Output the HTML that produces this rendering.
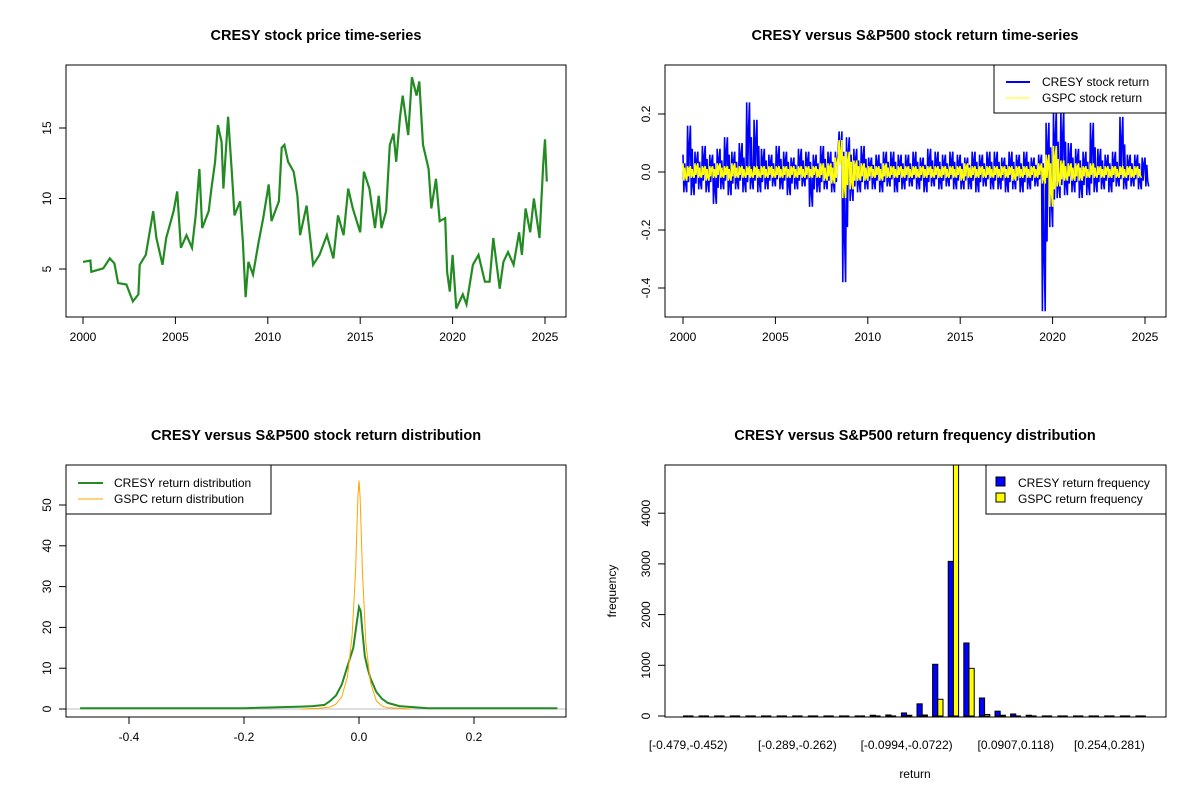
<!DOCTYPE html>
<html><head><meta charset="utf-8"><style>
html,body{margin:0;padding:0;background:#fff;}
svg{display:block;font-family:"Liberation Sans",Arial,sans-serif;}
</style></head><body>
<svg id="s" width="1200" height="800" viewBox="0 0 1200 800">
<rect width="1200" height="800" fill="#fff"/>
<g font-weight="bold" font-size="14.5" text-anchor="middle">
<text x="316" y="40">CRESY stock price time-series</text>
<text x="915" y="40">CRESY versus S&amp;P500 stock return time-series</text>
<text x="316" y="440">CRESY versus S&amp;P500 stock return distribution</text>
<text x="915" y="440">CRESY versus S&amp;P500 return frequency distribution</text>
</g>
</svg>
<script>
// ---------- Panel 1 data ----------
const priceYears=[2000.0,2000.4,2000.45,2001.1,2001.45,2001.7,2001.9,2002.35,2002.7,2003.0,2003.07,2003.4,2003.8,2003.97,2004.3,2004.5,2004.9,2005.1,2005.3,2005.6,2005.9,2006.1,2006.3,2006.45,2006.8,2006.95,2007.15,2007.3,2007.5,2007.6,2007.85,2008.05,2008.2,2008.5,2008.65,2008.8,2008.95,2009.2,2009.5,2009.75,2010.05,2010.2,2010.6,2010.75,2010.9,2011.1,2011.4,2011.6,2011.75,2012.1,2012.45,2012.8,2013.2,2013.55,2013.8,2014.1,2014.35,2014.6,2015.0,2015.2,2015.5,2015.8,2016.0,2016.15,2016.4,2016.6,2016.8,2016.95,2017.15,2017.3,2017.6,2017.8,2018.05,2018.2,2018.4,2018.7,2018.85,2019.1,2019.3,2019.6,2019.7,2019.85,2020.0,2020.2,2020.55,2020.75,2021.1,2021.4,2021.75,2022.0,2022.2,2022.55,2022.75,2023.0,2023.3,2023.6,2023.75,2023.95,2024.2,2024.4,2024.7,2024.9,2025.0,2025.1];
const priceValues=[5.5,5.6,4.8,5.05,5.75,5.4,4.0,3.9,2.7,3.2,5.3,6.0,9.1,7.2,5.3,7.2,9.1,10.5,6.5,7.4,6.5,8.8,12.1,7.9,9.1,10.7,12.6,15.2,14.0,10.7,15.8,11.9,8.8,9.8,6.9,3.0,5.5,4.6,6.9,8.6,11.0,8.4,9.8,13.6,13.8,12.6,11.9,10.2,7.4,9.5,5.3,6.0,7.4,5.75,8.8,7.4,10.7,9.3,7.6,11.9,10.7,7.9,10.2,7.9,9.1,13.8,14.6,12.6,15.7,17.3,14.5,18.6,17.3,18.3,13.8,12.1,9.3,11.4,8.4,8.6,4.8,3.4,6.0,2.2,3.2,2.5,5.3,6.0,4.1,4.1,7.2,3.6,5.5,6.2,5.3,7.6,6.0,9.3,7.6,10.0,7.2,12.4,14.2,11.2];
const yearTicks=[2000,2005,2010,2015,2020,2025];
const priceTicks=[5,10,15];
// ---------- Panel 2 data ----------
const retStart=2000, retStep=0.2;
const cresyReturns=[0.06,-0.07,0.16,-0.08,0.07,-0.06,0.09,-0.07,0.06,-0.11,0.08,-0.06,0.12,-0.08,0.07,-0.06,0.10,-0.07,0.24,-0.06,0.18,-0.07,0.08,-0.06,0.06,-0.05,0.09,-0.06,0.07,-0.08,0.05,-0.06,0.08,-0.05,0.07,-0.12,0.06,-0.07,0.09,-0.06,0.07,-0.07,0.07,0.14,-0.38,0.12,-0.10,0.08,-0.07,0.09,-0.06,0.05,-0.06,0.06,-0.07,0.07,-0.05,0.07,-0.07,0.06,-0.06,0.06,-0.05,0.07,-0.06,0.05,-0.07,0.08,-0.05,0.07,-0.06,0.06,-0.05,0.07,-0.06,0.06,-0.06,0.05,-0.06,0.07,-0.07,0.06,-0.05,0.07,-0.06,0.07,-0.06,0.05,-0.07,0.07,-0.06,0.06,-0.07,0.07,-0.06,0.05,-0.05,0.06,-0.48,0.17,-0.19,0.21,-0.09,0.21,-0.08,0.10,-0.07,0.08,-0.09,0.07,-0.08,0.17,-0.07,0.08,-0.06,0.06,-0.07,0.07,-0.05,0.19,-0.06,0.06,-0.05,0.06,-0.06,0.05];
const gspcReturns=[0.03,-0.03,0.02,-0.02,0.03,-0.02,0.02,-0.03,0.02,-0.02,0.03,-0.02,0.02,-0.03,0.03,-0.02,0.02,-0.02,0.02,-0.02,0.02,-0.02,0.02,-0.02,0.02,-0.02,0.02,-0.02,0.02,-0.02,0.02,-0.02,0.02,-0.02,0.02,-0.02,0.02,-0.02,0.03,-0.03,0.03,-0.04,0.05,0.11,-0.09,0.07,-0.06,0.04,-0.03,0.03,-0.03,0.02,-0.02,0.02,-0.03,0.03,-0.02,0.02,-0.02,0.02,-0.02,0.02,-0.02,0.02,-0.02,0.02,-0.02,0.02,-0.02,0.02,-0.02,0.02,-0.02,0.02,-0.02,0.02,-0.03,0.03,-0.02,0.02,-0.02,0.02,-0.02,0.02,-0.02,0.02,-0.02,0.02,-0.02,0.02,-0.03,0.02,-0.02,0.02,-0.02,0.02,-0.02,0.03,-0.04,0.06,-0.12,0.09,-0.05,0.04,-0.03,0.03,-0.03,0.03,-0.03,0.02,-0.02,0.03,-0.02,0.02,-0.02,0.02,-0.02,0.02,-0.02,0.02,-0.02,0.02,-0.02,0.02];
const returnTicks=[-0.4,-0.2,0.0,0.2];
// ---------- Panel 3 data ----------
const cresyDensX=[-0.485,-0.2,-0.1,-0.08,-0.06,-0.05,-0.04,-0.03,-0.02,-0.01,-0.005,0,0.003,0.006,0.01,0.015,0.02,0.03,0.04,0.05,0.07,0.1,0.12,0.2,0.345];
const cresyDensY=[0.2,0.2,0.6,0.7,1.0,2.0,3.3,6.0,10.5,15,20,25,24,19,13,10,7.5,4.2,2.5,1.5,0.7,0.4,0.2,0.2,0.2];
const gspcDensX=[-0.1,-0.07,-0.05,-0.04,-0.03,-0.02,-0.012,-0.006,-0.002,0,0.002,0.006,0.012,0.02,0.03,0.04,0.05,0.07,0.09];
const gspcDensY=[0.0,0.2,0.5,1.2,3.0,8.0,18,34,52,56,52,34,16,6.5,2,0.7,0.3,0.2,0.0];
const densXTicks=[-0.4,-0.2,0.0,0.2];
const densYTicks=[0,10,20,30,40,50];
// ---------- Panel 4 data ----------
const cresyCounts=[0,0,0,0,0,0,0,0,0,0,0,0,15,20,60,240,1020,3050,1440,355,95,40,15,0,0,0,0,0,0,0];
const gspcCounts=[0,0,0,0,0,0,0,0,0,0,0,0,2,5,15,20,330,5300,940,30,15,5,2,0,0,0,0,0,0,0];
const binLabels=["[-0.479,-0.452)","[-0.289,-0.262)","[-0.0994,-0.0722)","[0.0907,0.118)","[0.254,0.281)"];
const binLabelIdx=[0,7,14,21,27];
const freqTicks=[0,1000,2000,3000,4000];

const NS="http://www.w3.org/2000/svg";
const svg=document.getElementById('s');
function el(tag,attrs,parent){const e=document.createElementNS(NS,tag);for(const k in attrs)e.setAttribute(k,attrs[k]);(parent||svg).appendChild(e);return e;}
function txt(x,y,s,attrs,parent){const t=el('text',Object.assign({x:x,y:y,'font-size':12,'text-anchor':'middle'},attrs||{}),parent);t.textContent=s;return t;}
function lin(d0,d1,r0,r1){return v=>r0+(v-d0)*(r1-r0)/(d1-d0);}
function box(x0,y0,x1,y1,name){const r=el('rect',{x:x0,y:y0,width:x1-x0,height:y1-y0,fill:'none',stroke:'#000','stroke-width':1});

}
function xAxis(ticks,sx,yb,labels,name){const g=el('g',{});


el('line',{x1:sx(ticks[0]),x2:sx(ticks[ticks.length-1]),y1:yb,y2:yb,stroke:'#000'},g);
ticks.forEach((t,i)=>{el('line',{x1:sx(t),x2:sx(t),y1:yb,y2:yb+7,stroke:'#000'},g);txt(sx(t),yb+24,labels?labels[i]:String(t),{},g);});}
function yAxis(ticks,sy,xb,labels,name){const g=el('g',{});


el('line',{x1:xb,x2:xb,y1:sy(ticks[0]),y2:sy(ticks[ticks.length-1]),stroke:'#000'},g);
ticks.forEach((t,i)=>{const y=sy(t);el('line',{x1:xb-7,x2:xb,y1:y,y2:y,stroke:'#000'},g);txt(xb-15,y,labels?labels[i]:String(t),{transform:`rotate(-90 ${xb-15} ${y})`},g);});}
function poly(xs,ys,sx,sy,color,w,name,clip){const p=el('polyline',{points:xs.map((x,i)=>sx(x).toFixed(1)+','+sy(ys[i]).toFixed(1)).join(' '),fill:'none',stroke:color,'stroke-width':w,'stroke-linejoin':'miter'});if(clip)p.setAttribute('clip-path',clip);


return p;}
// step-style dense series: vertical strokes from each value to next
function stepPath(vals,t0,dt,sx,sy,color,w,name,clip){let d='';
for(let i=0;i<vals.length;i++){const x=sx(t0+i*dt);const a=vals[i];const b=i+1<vals.length?vals[i+1]:-vals[i];
d+=`M${x.toFixed(1)},${sy(a).toFixed(1)}L${(x+0.9).toFixed(1)},${sy(b).toFixed(1)}L${(x+1.8).toFixed(1)},${sy(a*0.5).toFixed(1)}L${(x+2.7).toFixed(1)},${sy(b*0.6).toFixed(1)}L${(x+sx(t0+dt)-sx(t0)).toFixed(1)},${sy(b).toFixed(1)}`;}
const p=el('path',{d:d,fill:'none',stroke:color,'stroke-width':w,'clip-path':clip});

}
const defs=el('defs',{});
function clipRect(id,x0,y0,x1,y1){const c=el('clipPath',{id:id},defs);el('rect',{x:x0,y:y0,width:x1-x0,height:y1-y0},c);}

// Panel 1
{const sx=lin(2000,2025,83,545), sy=lin(5,15,269,128);
clipRect('c1',66,65,566,317);
poly(priceYears,priceValues,sx,sy,'#228B22',2.2,'cresy-price-line','url(#c1)');
box(66,65,566,317,'price-plot-box');
xAxis(yearTicks,sx,317,null,'price-x-axis');
yAxis(priceTicks,sy,66,null,'price-y-axis');}

// Panel 2
{const sx=lin(2000,2025,683,1145), sy=lin(0,0.2,172,114);
clipRect('c2',665,65,1166,317);
stepPath(cresyReturns,retStart,retStep,sx,sy,'#0000FF',1.6,'cresy-return-line','url(#c2)');
stepPath(gspcReturns,retStart,retStep,sx,sy,'#FFFF00',1.6,'gspc-return-line','url(#c2)');
box(665,65,1166,317,'return-plot-box');
xAxis(yearTicks,sx,317,null,'return-x-axis');
yAxis(returnTicks,sy,665,['-0.4','-0.2','0.0','0.2'],'return-y-axis');
const lg=el('g',{});


el('rect',{x:994,y:65,width:172,height:48,fill:'#fff',stroke:'#000'},lg);
el('line',{x1:1006,x2:1030,y1:82,y2:82,stroke:'#0000FF','stroke-width':2},lg);
el('line',{x1:1006,x2:1030,y1:98,y2:98,stroke:'#FFFF00','stroke-width':1},lg);
txt(1042,86,'CRESY stock return',{'text-anchor':'start'},lg);
txt(1042,102,'GSPC stock return',{'text-anchor':'start'},lg);}

// Panel 3
{const sx=lin(0,0.2,359,474), sy=lin(0,50,709,505);
clipRect('c3',66,465,566,717);
const z=el('line',{x1:66,x2:566,y1:sy(0),y2:sy(0),stroke:'#BEBEBE'});


poly(cresyDensX,cresyDensY,sx,sy,'#228B22',2,'cresy-density-line','url(#c3)');
poly(gspcDensX,gspcDensY,sx,sy,'#FFA500',1,'gspc-density-line','url(#c3)');
box(66,465,566,717,'density-plot-box');
xAxis(densXTicks,sx,717,['-0.4','-0.2','0.0','0.2'],'density-x-axis');
yAxis(densYTicks,sy,66,null,'density-y-axis');
const lg=el('g',{});


el('rect',{x:66,y:465,width:205,height:49,fill:'#fff',stroke:'#000'},lg);
el('line',{x1:78,x2:103,y1:483,y2:483,stroke:'#228B22','stroke-width':2},lg);
el('line',{x1:78,x2:103,y1:499,y2:499,stroke:'#FFA500','stroke-width':1},lg);
txt(114,487,'CRESY return distribution',{'text-anchor':'start'},lg);
txt(114,503,'GSPC return distribution',{'text-anchor':'start'},lg);}

// Panel 4
{const sy=lin(0,1000,716,665.3), bw=5.2, g0=683, gw=15.6;
clipRect('c4',665,465,1166,717);
const bars=el('g',{'clip-path':'url(#c4)'});


function bar(x,v,fill,name){
 if(sy(0)-sy(v)<0.5){const l=el('line',{x1:x,x2:x+bw,y1:sy(0),y2:sy(0),stroke:'#000','stroke-width':1.2},bars);
 
 return;}
 const r=el('rect',{x:x,y:sy(v),width:bw,height:sy(0)-sy(v),fill:fill,stroke:'#000','stroke-width':1},bars);
 
 }
cresyCounts.forEach((v,i)=>bar(g0+i*gw,v,'#0000FF','cresy-bar'));
gspcCounts.forEach((v,i)=>bar(g0+i*gw+bw,v,'#FFFF00','gspc-bar'));
box(665,465,1166,717,'frequency-plot-box');
yAxis(freqTicks,sy,665,null,'frequency-y-axis');
const xg=el('g',{});


binLabelIdx.forEach((b,i)=>{txt(g0+b*gw+bw,749,binLabels[i],{},xg);});
const xl=txt(915,778,'return',{});


const yl=txt(616,591,'frequency',{transform:'rotate(-90 616 591)'});


const lg=el('g',{});


el('rect',{x:986,y:465,width:180,height:49,fill:'#fff',stroke:'#000'},lg);
el('rect',{x:996,y:477,width:9,height:9,fill:'#0000FF',stroke:'#000'},lg);
el('rect',{x:996,y:493,width:9,height:9,fill:'#FFFF00',stroke:'#000'},lg);
txt(1018,487,'CRESY return frequency',{'text-anchor':'start'},lg);
txt(1018,503,'GSPC return frequency',{'text-anchor':'start'},lg);}
</script>
</body></html>
